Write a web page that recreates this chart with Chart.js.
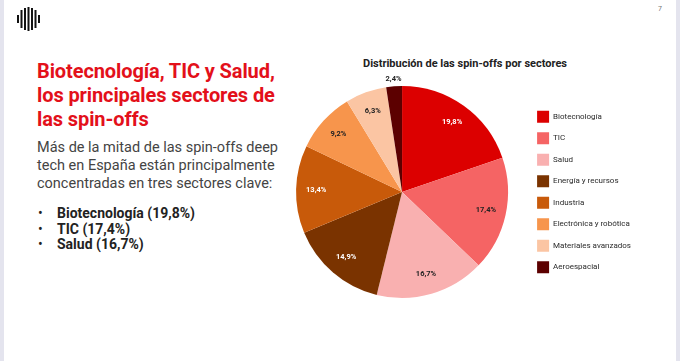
<!DOCTYPE html>
<html>
<head>
<meta charset="utf-8">
<script src="https://cdn.jsdelivr.net/npm/chart.js@4"></script>
<style>
  html, body { margin: 0; padding: 0; }
  body { width: 680px; height: 361px; position: relative; overflow: hidden; background: #fff; font-family: Roboto, "Liberation Sans", sans-serif; }
  .edge { position: absolute; top: 0; width: 4px; height: 361px; background: #e4e4ee; }
  .logo { position: absolute; left: 16px; top: 7px; }
  .page { position: absolute; left: 658px; top: 5px; font-size: 7px; color: #777; }
  h1 { position: absolute; left: 37px; top: 59px; margin: 0; width: 260px; font-size: 20px; line-height: 24px; font-weight: 700; color: #e3101a; letter-spacing: -0.1px; }
  .intro { position: absolute; left: 37px; top: 139px; margin: 0; width: 260px; font-size: 14.5px; line-height: 18px; color: #444; }
  ul { position: absolute; left: 37px; top: 206px; margin: 0; padding: 0; list-style: none; font-size: 14px; line-height: 15.5px; font-weight: 700; color: #222; }
  ul li { position: relative; padding-left: 20px; }
  ul li::before { content: "\2022"; position: absolute; left: 1px; font-weight: 400; }
  .ctitle { position: absolute; left: 330px; top: 57px; width: 270px; text-align: center; font-size: 11px; font-weight: 700; color: #222; }
  #wrap { position: absolute; left: 270px; top: 40px; width: 400px; height: 280px; }
</style>
</head>
<body>
<div class="edge" style="left:0"></div>
<div class="edge" style="left:676px"></div>
<svg class="logo" width="26" height="24" viewBox="0 0 26 24">
  <rect x="1" y="8" width="2" height="8" fill="#111"/>
  <rect x="4.5" y="3" width="2" height="18" fill="#111"/>
  <rect x="8" y="1" width="2" height="22" fill="#111"/>
  <rect x="11.5" y="0" width="2" height="24" fill="#111"/>
  <rect x="15" y="1" width="2" height="22" fill="#111"/>
  <rect x="18.5" y="3" width="2" height="18" fill="#111"/>
  <rect x="22" y="8" width="2" height="8" fill="#111"/>
</svg>
<div class="page">7</div>
<h1>Biotecnología, TIC y Salud, los principales sectores de las spin-offs</h1>
<p class="intro">Más de la mitad de las spin-offs deep tech en España están principalmente concentradas en tres sectores clave:</p>
<ul>
  <li>Biotecnología (19,8%)</li>
  <li>TIC (17,4%)</li>
  <li>Salud (16,7%)</li>
</ul>
<div class="ctitle">Distribución de las spin-offs por sectores</div>
<div id="wrap"><canvas id="myChart"></canvas></div>
<script>
  // sectors and shares (%)
  const sectors = ['Biotecnología', 'TIC', 'Salud', 'Energía y recursos', 'Industria', 'Electrónica y robótica', 'Materiales avanzados', 'Aeroespacial']
  const shares = [19.8, 17.4, 16.7, 14.9, 13.4, 9.2, 6.3, 2.4]
  const colors = ['#dc0000', '#f56464', '#f9b0b0', '#7a3300', '#c85a0a', '#f7954c', '#fbc5a3', '#5c0000']
  const labelColors = ['#fff', '#222', '#222', '#fff', '#fff', '#222', '#222', '#222']

  // percentage labels inside the slices, the smallest one outside
  const sliceLabels = {
    id: 'sliceLabels',
    afterDraw(chart) {
      const ctx = chart.ctx
      const meta = chart.getDatasetMeta(0)
      ctx.save()
      ctx.font = 'bold 7.5px Roboto, sans-serif'
      ctx.textAlign = 'center'
      ctx.textBaseline = 'middle'
      meta.data.forEach((arc, i) => {
        const p = arc.getProps(['x', 'y', 'startAngle', 'endAngle', 'outerRadius'], true)
        const mid = (p.startAngle + p.endAngle) / 2
        const d = shares[i] < 3 ? p.outerRadius + 7 : p.outerRadius * 0.81
        ctx.fillStyle = labelColors[i]
        ctx.fillText(shares[i].toFixed(1).replace('.', ',') + '%', p.x + Math.cos(mid) * d, p.y + Math.sin(mid) * d)
      })
      ctx.restore()
    }
  }

  const ctx = document.getElementById('myChart')
  new Chart(ctx, {
    type: 'pie',
    data: {
      labels: sectors,
      datasets: [{
        data: shares,
        backgroundColor: colors,
        borderWidth: 0
      }]
    },
    options: {
      responsive: true,
      maintainAspectRatio: false,
      animation: false,
      layout: { padding: { top: 46, bottom: 22, left: 6.5, right: 29 } },
      plugins: {
        legend: {
          position: 'right',
          labels: {
            boxWidth: 12,
            boxHeight: 12,
            padding: 9.5,
            color: '#2a2a2a',
            font: { family: 'Roboto, sans-serif', size: 8 }
          }
        },
        tooltip: { enabled: false }
      }
    },
    plugins: [sliceLabels]
  })
</script>
</body>
</html>
